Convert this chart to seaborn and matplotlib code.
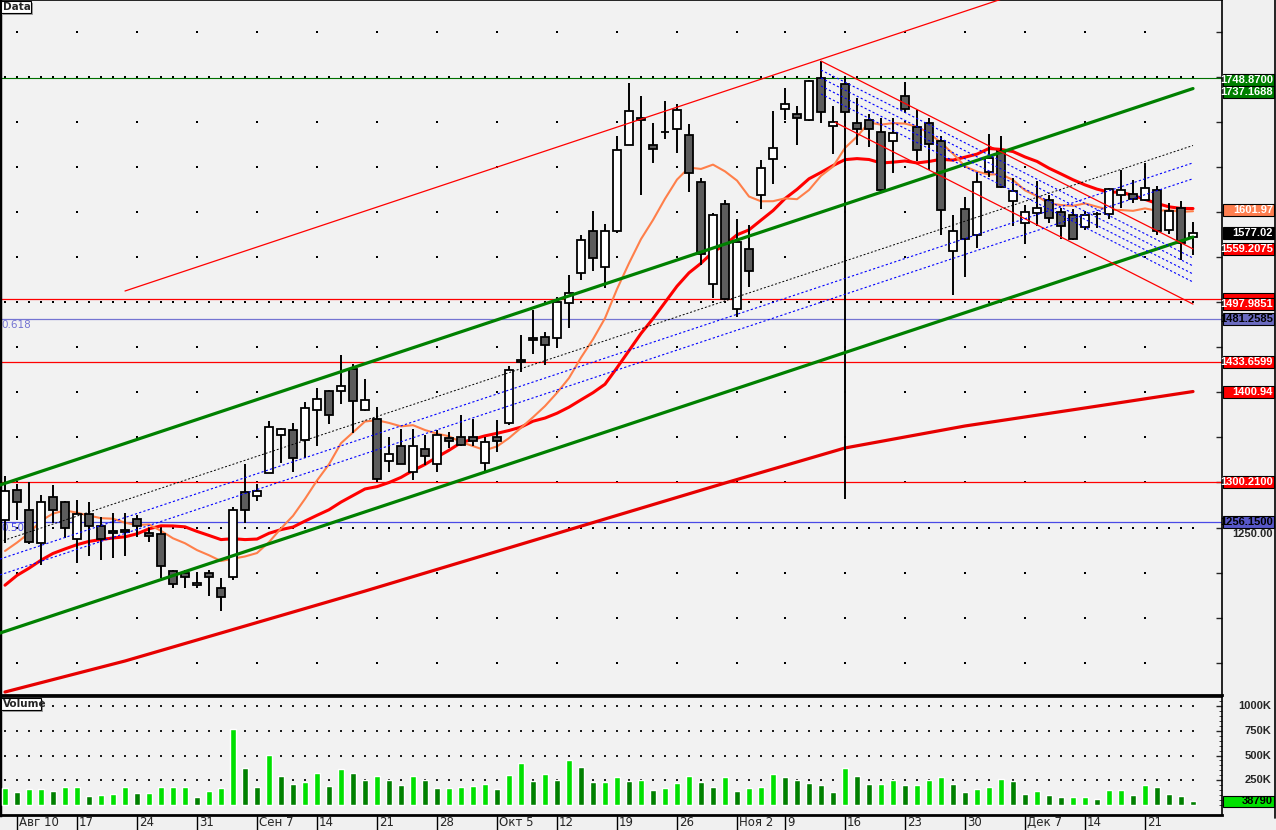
import numpy as np
import pandas as pd
import matplotlib
matplotlib.use("Agg")
import matplotlib.pyplot as plt
import matplotlib.transforms as mtransforms
from matplotlib.patches import Rectangle
import seaborn as sns

# daily candles, Aug 7 .. Dec 25 (Nov 4 holiday skipped)
opens = [1258, 1292, 1270, 1233, 1284, 1278, 1237, 1265, 1252, 1246,
         1247, 1260, 1244, 1243, 1202, 1200, 1186, 1199, 1183, 1195,
         1289, 1285, 1311, 1353, 1358, 1347, 1380, 1402, 1402, 1426,
         1380, 1370, 1324, 1340, 1312, 1337, 1320, 1349, 1350, 1350,
         1322, 1350, 1366, 1436, 1460, 1461, 1460, 1499, 1532, 1579,
         1539, 1579, 1675, 1704, 1674, 1689, 1692, 1686, 1634, 1520,
         1609, 1493, 1559, 1619, 1659, 1714, 1709, 1702, 1748.5, 1696,
         1742, 1699, 1702, 1689, 1679, 1729, 1695, 1699, 1679, 1557,
         1603, 1575, 1645, 1668, 1612, 1588, 1599, 1614, 1600, 1597,
         1584, 1598, 1598, 1619, 1620, 1614, 1625, 1580, 1605, 1572]
highs = [1307, 1298, 1301, 1286, 1297, 1280, 1281, 1278, 1262, 1266,
         1266, 1264, 1249, 1250, 1203, 1203, 1201, 1203, 1194, 1273,
         1320, 1298, 1368, 1361, 1366, 1389, 1405, 1403, 1442, 1432,
         1415, 1384, 1351, 1359, 1359, 1353, 1358, 1356, 1375, 1371,
         1350, 1369, 1429, 1464, 1491, 1467, 1506, 1530, 1575, 1601,
         1587, 1685, 1743, 1729, 1699, 1723, 1720, 1698, 1638, 1599,
         1614, 1592, 1586, 1658, 1712, 1738, 1718, 1747, 1768, 1718,
         1748.5, 1727, 1709, 1705, 1705, 1744, 1713, 1705, 1685, 1597,
         1617, 1645, 1687, 1685, 1638, 1608, 1635, 1619, 1605, 1604,
         1599, 1600, 1627, 1647, 1636, 1655, 1629, 1610, 1612, 1589]
lows = [1233, 1258, 1232, 1208, 1255, 1238, 1211, 1218, 1214, 1216,
        1218, 1240, 1234, 1194, 1183, 1183, 1183, 1174, 1157, 1192,
        1255, 1280, 1310, 1322, 1312, 1327, 1341, 1365, 1387, 1355,
        1379, 1301, 1312, 1320, 1303, 1319, 1312, 1338, 1340, 1341,
        1313, 1334, 1364, 1423, 1443, 1430, 1450, 1471, 1525, 1535,
        1516, 1577, 1674, 1619, 1655, 1681, 1666, 1622, 1541, 1505,
        1503, 1484, 1517, 1603, 1631, 1702, 1675, 1701, 1699, 1665,
        1282, 1675, 1672, 1624, 1643, 1710, 1657, 1647, 1575, 1508,
        1528, 1560, 1639, 1627, 1585, 1565, 1585, 1588, 1570, 1569,
        1580, 1582, 1592, 1605, 1610, 1612, 1575, 1576, 1547, 1553]
closes = [1290, 1278, 1234, 1278, 1270, 1250, 1265, 1252, 1237, 1244,
          1245.5, 1252, 1241, 1207, 1187, 1195, 1189, 1195, 1173, 1270,
          1270, 1290, 1362, 1359, 1327, 1383, 1393, 1375, 1407, 1390,
          1391, 1304, 1332, 1321, 1340, 1329, 1353, 1346, 1342, 1346,
          1345, 1346, 1425, 1434, 1458, 1453, 1500, 1510, 1569, 1549,
          1579, 1669, 1712, 1702, 1670, 1688.5, 1713, 1643, 1554, 1597,
          1504, 1567, 1535, 1649, 1671, 1720, 1704, 1745, 1711, 1700,
          1711, 1692, 1692, 1625, 1688, 1715, 1669, 1676, 1602, 1579,
          1570, 1634, 1660, 1628, 1624, 1600, 1605, 1594, 1585, 1570,
          1597, 1597.5, 1626, 1625, 1615, 1627, 1579, 1601, 1566, 1577.02]
# closes before the first visible bar, estimated from where the averages start
prior_closes = [1060, 1075, 1100, 1120, 1150, 1170, 1180, 1195, 1210, 1220,
                1185, 1130, 1140, 1190, 1215, 1290, 1285, 1265, 1250]
volume_k = [172, 131, 162, 162, 141, 182, 182, 91, 101, 111,
            182, 121, 121, 182, 182, 182, 81, 141, 172, 768,
            374, 182, 505, 293, 212, 232, 323, 192, 364, 323,
            253, 293, 253, 202, 293, 253, 172, 172, 182, 192,
            212, 162, 303, 424, 242, 313, 253, 455, 384, 232,
            232, 283, 242, 253, 152, 172, 222, 293, 232, 182,
            283, 141, 172, 182, 313, 283, 253, 222, 202, 131,
            374, 293, 212, 212, 253, 202, 202, 253, 283, 212,
            131, 162, 182, 263, 242, 111, 141, 101, 81, 81,
            81, 61, 152, 152, 101, 202, 182, 111, 91, 38.79]
# long average every ten bars
ma_long_bars = [0, 10, 20, 30, 40, 50, 60, 70, 80, 90, 99]
ma_long = [1067.5, 1101.9, 1140.7, 1179.5, 1219.5, 1259.5, 1299.4, 1338.3, 1362.7, 1382.7, 1400.94]

tick_bars = [1, 6, 11, 16, 21, 26, 31, 36, 41, 46, 51, 56, 61, 65, 70, 75, 80, 85, 90, 95]
tick_labels = ["Авг 10", "17", "24", "31", "Сен 7", "14", "21", "28", "Окт 5", "12",
               "19", "26", "Ноя 2", "9", "16", "23", "30", "Дек 7", "14", "21"]

# drawn objects: (bar0, price0, bar1, price1)
green_channel = [(-0.42, 1297.2, 99, 1737.17), (-0.42, 1132.9, 99, 1572.4)]
red_up_line = (10, 1512.5, 90, 1867.3)
red_down_channel = [(68, 1767.7, 99, 1559.21), (69.2, 1699.5, 99, 1497.99)]
blue_down_lines = [(68, 1757.7, 99, 1549.1), (68, 1748.9, 99, 1540.3),
                   (68, 1740.0, 99, 1531.4), (68, 1731.1, 99, 1522.5)]
up_dotted_black = (-0.42, 1234.3, 99, 1674.0)
up_dotted_blue = [(-0.42, 1215.0, 99, 1654.7), (-0.42, 1197.4, 99, 1637.1)]
red_levels = [1504.0, 1433.66, 1300.21]
fib_levels = [(1481.26, "0.618", "#7474d2"), (1256.15, "0.500", "#4a4ae6")]
top_level = 1748.87

W, H = 1276, 830
sns.set_style("white")
plt.rcParams["font.family"] = ["DejaVu Sans"]
box_font = dict(family="Liberation Sans", fontsize=8, fontweight="bold")

df = pd.DataFrame({"open": opens, "high": highs, "low": lows, "close": closes, "vol": volume_k})
df["bar"] = np.arange(len(df))
full = pd.Series(prior_closes + closes)
df["sma10"] = full.rolling(10).mean().iloc[len(prior_closes):].values
df["sma20"] = full.rolling(20).mean().iloc[len(prior_closes):].values

fig = plt.figure(figsize=(W / 100, H / 100), dpi=100, facecolor="#f0f0f0")
ax = fig.add_axes([0, (H - 695) / H, 1222 / W, 695 / H])
axv = fig.add_axes([0, (H - 815) / H, 1222 / W, 118 / H])
px = 1.10976  # price units per pixel in the main panel
for a in (ax, axv):
    a.set_facecolor("#f2f2f2")
    for s in a.spines.values():
        s.set_color("black")
        s.set_linewidth(1.2)
    a.spines["left"].set_linewidth(2.5)
    a.spines["bottom"].set_linewidth(2)

# grid dots: weekly on every 50, every bar on the round 250 levels
gx, gy = np.meshgrid(tick_bars, np.arange(1100, 1851, 50))
ax.scatter(gx.ravel(), gy.ravel(), s=1.2, marker="s", color="black", lw=0, zorder=1)
gx, gy = np.meshgrid(df["bar"], [1250, 1500, 1750])
ax.scatter(gx.ravel(), gy.ravel(), s=1.2, marker="s", color="black", lw=0, zorder=1)
gx, gy = np.meshgrid(df["bar"], [250, 500, 750, 1000])
axv.scatter(gx.ravel(), gy.ravel(), s=1.0, marker="s", color="#202020", lw=0, zorder=1)

# horizontal levels
ax.axhline(top_level, color="#007000", lw=0.8, zorder=2)
for lv in red_levels:
    ax.axhline(lv, color="red", lw=0.9, zorder=2)
for lv, txt, col in fib_levels:
    ax.axhline(lv, color=col, lw=0.9, zorder=2)
    ax.text(-0.3, lv - 7, txt, color=col, fontsize=7.5, va="center", ha="left", zorder=2)

# indicators (behind candles)
sns.lineplot(x=ma_long_bars, y=ma_long, ax=ax, color="#e60000", lw=2.3, zorder=2)
sns.lineplot(x=df["bar"], y=df["sma20"], ax=ax, color="#ff0000", lw=2.2, zorder=2)
sns.lineplot(x=df["bar"], y=df["sma10"], ax=ax, color="#ff7f4a", lw=1.5, zorder=2)

# candles
up = df["close"] >= df["open"]
ax.vlines(df["bar"], df["low"], df["high"], color="black", lw=1.4, zorder=3)
body = (df["close"] - df["open"]).abs().clip(lower=1.0)
ax.bar(df["bar"], body, bottom=np.minimum(df["open"], df["close"]), width=0.6,
       color=np.where(up, "white", "#5c5c5c"), edgecolor="black", linewidth=1.3, zorder=4)


# drawn objects on top
def seg(line, **kw):
    ax.plot([line[0], line[2]], [line[1], line[3]], **kw)


for ln in green_channel:
    seg(ln, color="#008000", lw=2.3, zorder=5)
seg(red_up_line, color="red", lw=0.9, zorder=5)
for ln in red_down_channel:
    seg(ln, color="red", lw=0.9, zorder=5)
for ln in blue_down_lines:
    seg(ln, color="#0000ff", lw=0.8, ls=(0, (2, 2)), zorder=5)
seg(up_dotted_black, color="black", lw=0.7, ls=(0, (2, 2)), zorder=5)
for ln in up_dotted_blue:
    seg(ln, color="#0000ff", lw=0.8, ls=(0, (2, 2)), zorder=5)

# volume
vcol = ["#00e000"] + ["#00e000" if v >= p else "#008000" for p, v in zip(volume_k[:-1], volume_k[1:])]
axv.bar(df["bar"], df["vol"], width=0.58, color=vcol, zorder=3)

# right-hand scale
for a in (ax, axv):
    a.yaxis.tick_right()
    a.tick_params(axis="y", direction="in", length=4, width=1, labelright=False, pad=2)
    a.tick_params(axis="x", bottom=False, labelbottom=False)
    a.set_xlabel("")
    a.set_ylabel("")
ax.set_yticks(np.arange(1100, 1851, 50))
axv.set_yticks([250, 500, 750, 1000])
axv.set_yticks(np.arange(0, 1051, 50), minor=True)
axv.tick_params(axis="y", which="minor", direction="in", length=2, right=True)

# limits last, so nothing drawn above can stretch them
for a in (ax, axv):
    a.set_xlim(-5 / 12, 1217 / 12)
ax.set_ylim(1835.44 - 695 * px, 1835.44)
axv.set_ylim(-101, 1091)

tr = mtransforms.blended_transform_factory(fig.transFigure, ax.transData)
trv = mtransforms.blended_transform_factory(fig.transFigure, axv.transData)


def price_box(a, t, value, text, face, fg="white", h=12):
    hh = h * (px if a is ax else 10.1)
    a.add_patch(Rectangle((1223 / W, value - hh / 2), 51 / W, hh, transform=t, facecolor=face,
                          edgecolor="black", lw=0.8, clip_on=False, zorder=10))
    a.text(1273 / W, value, text, transform=t, ha="right", va="center", color=fg,
           clip_on=False, zorder=11, **box_font)


# price scale label peeking out under the 1256.15 box
ax.text(1273 / W, 1256.15 - 6.6 * px, "1250.00", transform=tr, ha="right", va="top",
        clip_on=False, zorder=9, **box_font)
price_box(ax, tr, 1746.7, "1748.8700", "#007f00")
price_box(ax, tr, 1733.7, "1737.1688", "#007f00")
price_box(ax, tr, 1601.97, "1601.97", "#ff7f50")
price_box(ax, tr, 1577.02, "1577.02", "black")
price_box(ax, tr, 1559.21, "1559.2075", "red")
price_box(ax, tr, 1504.0, "", "red")
price_box(ax, tr, 1497.99, "1497.9851", "red")
price_box(ax, tr, 1481.26, "1481.2585", "#6b6bc0", fg="black")
price_box(ax, tr, 1433.66, "1433.6599", "red")
price_box(ax, tr, 1400.94, "1400.94", "red")
price_box(ax, tr, 1300.21, "1300.2100", "red")
price_box(ax, tr, 1256.15, "1256.1500", "#5858c8", fg="black")
for v in [250, 500, 750, 1000]:
    axv.text(1271 / W, v, f"{v}K", transform=trv, ha="right", va="center",
             clip_on=False, **box_font)
price_box(axv, trv, 38.79, "38790", "#00e000", fg="black", h=11)
fig.add_artist(plt.Line2D([1274.5 / W, 1274.5 / W], [(H - 818) / H, 1], color="black", lw=1.2))

# panel captions
for y0, txt, w in [(1, "Data", 30), (698, "Volume", 40)]:
    fig.add_artist(Rectangle((3 / W, 1 - (y0 + 14) / H), w / W, 12 / H, facecolor="#a0a0a0", lw=0))
    fig.add_artist(Rectangle((1 / W, 1 - (y0 + 12) / H), w / W, 12 / H, facecolor="white",
                             edgecolor="black", lw=0.8))
    fig.text(3 / W, 1 - (y0 + 6) / H, txt, fontsize=7.5, fontweight="bold", va="center")

# date axis
trd = mtransforms.blended_transform_factory(axv.transData, fig.transFigure)
for b, lab in zip(tick_bars, tick_labels):
    fig.add_artist(plt.Line2D([b, b], [0, (H - 816) / H], transform=trd, color="black", lw=1))
    axv.text(b + 0.15, 1.5 / H, lab, transform=trd, fontsize=8.5, va="bottom", ha="left", clip_on=False)

fig.savefig("out.png", dpi=100, facecolor=fig.get_facecolor())
